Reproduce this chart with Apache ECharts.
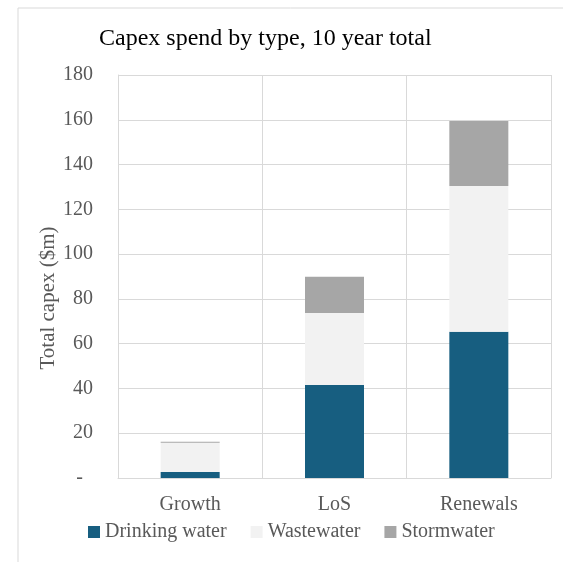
<!DOCTYPE html>
<html>
<head>
<meta charset="utf-8">
<script src="https://cdn.jsdelivr.net/npm/echarts@6/dist/echarts.min.js"></script>
<style>html,body{margin:0;padding:0;background:#fff}#c{width:563px;height:562px}</style>
</head>
<body>
<div id="c"></div>
<script>
const categories = ['Growth', 'LoS', 'Renewals'];
const drinkingWater = [2.7, 41.5, 65.3];
const wastewater = [13.0, 32.2, 65.1];
const stormwater = [0.5, 16.2, 29.0];
const yTicks = { min: 0, max: 180, interval: 20 };

const serif = '"Liberation Serif", "Times New Roman", serif';
const chart = echarts.init(document.getElementById('c'), null, { renderer: 'canvas' });
chart.setOption({
  animation: false,
  backgroundColor: '#ffffff',
  title: {
    text: 'Capex spend by type, 10 year total',
    left: 99, top: 27, padding: 0,
    textStyle: { fontFamily: serif, fontSize: 24, fontWeight: 'normal', color: '#000' }
  },
  legend: {
    left: 88, top: 522, padding: 0,
    itemWidth: 12, itemHeight: 12, itemGap: 24,
    icon: 'rect',
    textStyle: { fontFamily: serif, fontSize: 20, color: '#595959' },
    data: ['Drinking water', 'Wastewater', 'Stormwater']
  },
  grid: { left: 118, right: 12, top: 75, bottom: 84, containLabel: false },
  xAxis: {
    type: 'category',
    data: categories,
    axisLine: { lineStyle: { color: '#d9d9d9' } },
    axisTick: { show: false },
    splitLine: { show: true, lineStyle: { color: '#d9d9d9', width: 1 } },
    axisLabel: { fontFamily: serif, fontSize: 20, color: '#595959', margin: 17 }
  },
  yAxis: {
    type: 'value',
    min: yTicks.min, max: yTicks.max, interval: yTicks.interval,
    axisLine: { show: true, lineStyle: { color: '#d9d9d9' } },
    axisTick: { show: false },
    splitLine: { lineStyle: { color: '#d9d9d9', width: 1 } },
    axisLabel: {
      fontFamily: serif, fontSize: 20, color: '#595959', margin: 25,
      formatter: v => v === 0 ? '-  ' : String(v)
    }
  },
  graphic: [
    { type: 'line', shape: { x1: 18, y1: 8, x2: 563, y2: 8 }, style: { stroke: '#d9d9d9', lineWidth: 1 } },
    { type: 'line', shape: { x1: 18, y1: 8, x2: 18, y2: 562 }, style: { stroke: '#d9d9d9', lineWidth: 1 } },
    {
      type: 'text', x: 48, y: 298, rotation: Math.PI / 2,
      style: { text: 'Total capex ($m)', font: '21px ' + serif, fill: '#595959', textAlign: 'center', textVerticalAlign: 'middle' }
    }
  ],
  series: [
    { name: 'Drinking water', type: 'bar', stack: 'a', data: drinkingWater, barWidth: 59, itemStyle: { color: '#175e80' } },
    { name: 'Wastewater', type: 'bar', stack: 'a', data: wastewater, barWidth: 59, itemStyle: { color: '#f2f2f2' } },
    { name: 'Stormwater', type: 'bar', stack: 'a', data: stormwater, barWidth: 59, itemStyle: { color: '#a6a6a6' } }
  ]
});
</script>
</body>
</html>
